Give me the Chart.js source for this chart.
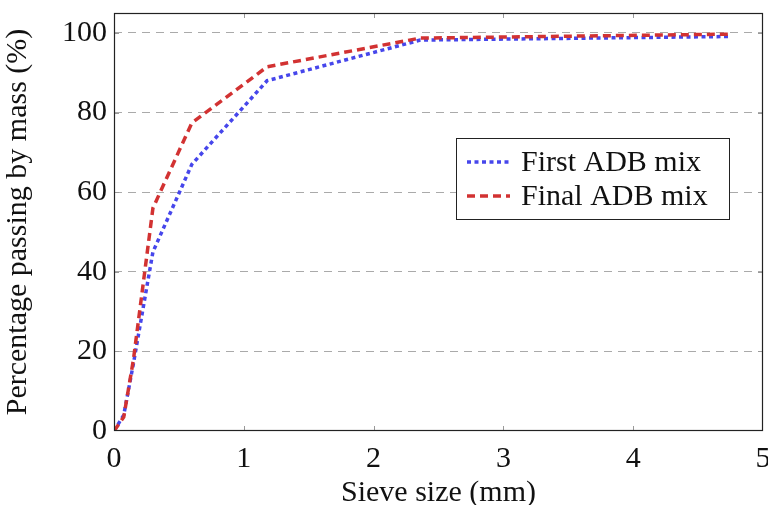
<!DOCTYPE html>
<html>
<head>
<meta charset="utf-8">
<script src="https://cdn.jsdelivr.net/npm/chart.js@4"></script>
<style>
  html, body { margin: 0; padding: 0; background: #fff; }
  #wrap { width: 768px; height: 505px; }
</style>
</head>
<body>
<div id="wrap"><canvas id="gradChart"></canvas></div>
<script>
// sieve sizes (mm) and percentage passing
const sieveSizes = [0, 0.075, 0.15, 0.3, 0.6, 1.18, 2.36, 4.75];
const firstMix = [0, 4, 17, 45, 67, 88, 98.2, 99.1];
const finalMix = [0, 3.5, 18, 56, 77.4, 91.5, 98.7, 99.7];
const xTicks = [0, 1, 2, 3, 4, 5];
const yTicks = [0, 20, 40, 60, 80, 100];
const seriesLabels = ['First ADB mix', 'Final ADB mix'];

const FONT = "'Liberation Serif', serif";
const FONT_SIZE = 30;

function toPoints(xs, ys) {
  return xs.map((x, i) => ({ x: x, y: ys[i] }));
}

// frame, inward ticks and the boxed legend inside the plot
const framePlugin = {
  id: 'frame',
  afterDatasetsDraw(chart) {
    const ctx = chart.ctx;
    const a = chart.chartArea;
    const xs = chart.scales.x, ys = chart.scales.y;
    ctx.save();
    ctx.strokeStyle = '#999';
    ctx.lineWidth = 1;
    ctx.beginPath();
    xTicks.slice(1, -1).forEach(v => {
      const px = Math.round(xs.getPixelForValue(v)) + 0.5;
      ctx.moveTo(px, a.bottom); ctx.lineTo(px, a.bottom - 5);
      ctx.moveTo(px, a.top); ctx.lineTo(px, a.top + 5);
    });
    yTicks.slice(1).forEach(v => {
      const py = Math.round(ys.getPixelForValue(v)) + 0.5;
      ctx.moveTo(a.left, py); ctx.lineTo(a.left + 5, py);
      ctx.moveTo(a.right, py); ctx.lineTo(a.right - 5, py);
    });
    ctx.stroke();

    ctx.strokeStyle = '#222';
    ctx.lineWidth = 1.2;
    ctx.strokeRect(a.left + 0.5, a.top + 0.5, a.right - a.left - 1, a.bottom - a.top - 1);

    // legend
    const bx = 456, by = 138, bw = 273, bh = 81;
    ctx.fillStyle = '#fff';
    ctx.fillRect(bx, by, bw, bh);
    ctx.strokeStyle = '#222';
    ctx.lineWidth = 1;
    ctx.strokeRect(bx + 0.5, by + 0.5, bw, bh);
    chart.data.datasets.forEach((ds, i) => {
      const ly = by + 24 + i * 34;
      ctx.strokeStyle = ds.borderColor;
      ctx.lineWidth = ds.borderWidth;
      ctx.setLineDash(ds.borderDash);
      ctx.beginPath();
      ctx.moveTo(bx + 11, ly);
      ctx.lineTo(bx + 54, ly);
      ctx.stroke();
      ctx.setLineDash([]);
      ctx.fillStyle = '#111';
      ctx.font = FONT_SIZE + 'px ' + FONT;
      ctx.textBaseline = 'middle';
      ctx.fillText(ds.label, bx + 65, ly + 1);
    });
    ctx.restore();
  }
};

new Chart(document.getElementById('gradChart'), {
  type: 'line',
  data: {
    datasets: [{
      label: seriesLabels[0],
      data: toPoints(sieveSizes, firstMix),
      borderColor: 'rgb(70,70,235)',
      borderWidth: 3.5,
      borderDash: [4, 3.5],
      borderCapStyle: 'butt',
      pointRadius: 0,
      tension: 0,
      fill: false,
      order: 2
    }, {
      label: seriesLabels[1],
      data: toPoints(sieveSizes, finalMix),
      borderColor: 'rgb(210,50,50)',
      borderWidth: 3.5,
      borderDash: [8, 5],
      borderCapStyle: 'butt',
      pointRadius: 0,
      tension: 0,
      fill: false,
      order: 1
    }]
  },
  options: {
    responsive: true,
    maintainAspectRatio: false,
    animation: false,
    layout: { padding: { top: 13, right: 5, left: 0, bottom: 0 } },
    plugins: { legend: { display: false }, tooltip: { enabled: false } },
    scales: {
      x: {
        type: 'linear',
        min: 0,
        max: 5,
        afterBuildTicks: s => { s.ticks = xTicks.map(v => ({ value: v })); },
        afterFit: s => { s.height = 74; s.paddingLeft = 0; s.paddingRight = 0; },
        grid: { display: false, drawTicks: false },
        border: { display: false },
        ticks: { color: '#111', padding: 10, font: { family: FONT, size: FONT_SIZE } },
        title: {
          display: true,
          text: 'Sieve size (mm)',
          color: '#111',
          font: { family: FONT, size: FONT_SIZE, lineHeight: 0.8 },
          padding: 0
        }
      },
      y: {
        type: 'linear',
        min: 0,
        max: 105,
        afterBuildTicks: s => { s.ticks = yTicks.map(v => ({ value: v })); },
        afterFit: s => { s.width = 114; s.paddingTop = 0; s.paddingBottom = 0; },
        grid: {
          drawTicks: false,
          color: c => (c.tick && c.tick.value === 0) ? 'rgba(0,0,0,0)' : '#aaa',
          lineWidth: 1
        },
        border: { display: false, dash: [8, 6] },
        ticks: { color: '#111', padding: 7, font: { family: FONT, size: FONT_SIZE } },
        title: {
          display: true,
          text: 'Percentage passing by mass (%)',
          color: '#111',
          font: { family: FONT, size: FONT_SIZE, lineHeight: 1.2 },
          padding: 0
        }
      }
    }
  },
  plugins: [framePlugin]
});
</script>
</body>
</html>
